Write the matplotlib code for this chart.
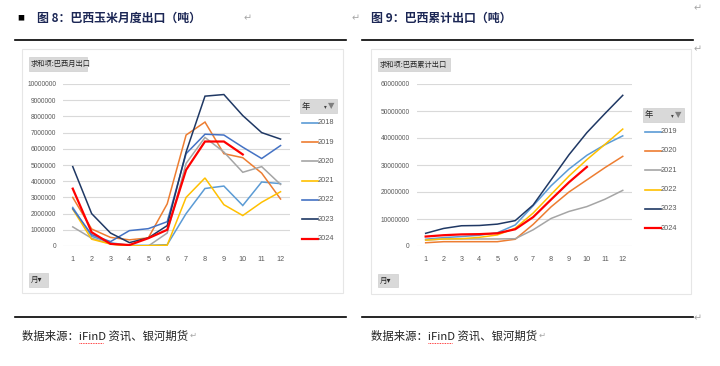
import matplotlib.pyplot as plt
from matplotlib.patches import Rectangle
from matplotlib.lines import Line2D
from matplotlib.ticker import MultipleLocator, FuncFormatter

plt.rcParams['font.family'] = ['Liberation Sans', 'Noto Sans CJK SC', 'DejaVu Sans']

# data (million tonnes)
months = list(range(1, 13))

monthly_years = ['2018', '2019', '2020', '2021', '2022', '2023', '2024']
m2018 = [2.38, 0.60, 0.20, 0.04, 0.04, 0.08, 2.00, 3.55, 3.70, 2.50, 3.95, 3.85]
m2019 = [3.00, 1.05, 0.53, 0.38, 0.50, 2.60, 6.85, 7.65, 5.70, 5.45, 4.50, 2.90]
m2020 = [1.18, 0.48, 0.13, 0.00, 0.00, 0.80, 5.10, 6.70, 5.80, 4.55, 4.90, 3.80]
m2021 = [2.27, 0.42, 0.12, 0.00, 0.02, 0.05, 3.00, 4.20, 2.55, 1.88, 2.70, 3.35]
m2022 = [2.30, 0.70, 0.27, 0.95, 1.07, 1.50, 5.70, 6.90, 6.85, 6.10, 5.40, 6.20]
m2023 = [4.90, 2.00, 0.80, 0.21, 0.50, 1.26, 5.80, 9.25, 9.35, 8.05, 7.00, 6.60]
m2024 = [3.54, 0.85, 0.13, 0.06, 0.48, 1.00, 4.70, 6.45, 6.45, 5.65]
monthly = [m2018, m2019, m2020, m2021, m2022, m2023, m2024]

cum_years = ['2019', '2020', '2021', '2022', '2023', '2024']
c2019 = [2.5, 3.1, 3.5, 4.0, 4.9, 7.8, 14.9, 22.3, 28.5, 33.6, 37.5, 40.8]
c2020 = [1.2, 1.6, 1.6, 1.6, 1.6, 2.5, 8.0, 14.5, 20.0, 24.5, 29.0, 33.2]
c2021 = [2.2, 2.6, 2.6, 2.6, 2.6, 2.7, 6.0, 10.2, 12.8, 14.6, 17.3, 20.6]
c2022 = [2.2, 2.6, 2.7, 3.2, 4.1, 6.6, 12.2, 19.1, 25.9, 32.0, 37.6, 43.3]
c2023 = [4.7, 6.5, 7.5, 7.6, 8.1, 9.4, 15.2, 24.5, 33.8, 42.0, 49.0, 55.8]
c2024 = [3.5, 4.0, 4.3, 4.4, 4.7, 6.2, 10.7, 17.2, 23.6, 29.3]
cumulative = [c2019, c2020, c2021, c2022, c2023, c2024]

monthly_colors = ['#5B9BD5', '#ED7D31', '#A5A5A5', '#FFC000', '#4472C4', '#1F3864', '#FF0000']
cum_colors = ['#5B9BD5', '#ED7D31', '#A5A5A5', '#FFC000', '#1F3864', '#FF0000']

W, H = 720, 366
fig = plt.figure(figsize=(7.2, 3.66), dpi=100)
fig.patch.set_facecolor('white')


def fx(px):
    return px / W


def fy(py):
    return 1 - py / H


def box(x0, y0, x1, y1, z=2, **kw):
    fig.add_artist(Rectangle((fx(x0), fy(y1)), fx(x1 - x0), (y1 - y0) / H,
                             transform=fig.transFigure, zorder=z, **kw))


def hline(x0, x1, y, color='black', lw=1.2):
    fig.add_artist(Line2D([fx(x0), fx(x1)], [fy(y), fy(y)], color=color, lw=lw,
                          transform=fig.transFigure))


def txt(x, y, s, **kw):
    fig.text(fx(x), fy(y), s, zorder=5, **kw)


cjk = ['Noto Sans CJK SC', 'DejaVu Sans']
navy = '#1C2755'
ret = '#A6A6A6'

# headings
txt(17, 18, '■', fontsize=5, color='black', va='center', family=cjk)
txt(37, 18, '图 8：巴西玉米月度出口（吨）', fontsize=8.6, color=navy, weight='bold', va='center', family=cjk)
txt(244, 18, '↵', fontsize=7, color=ret, va='center', family=['DejaVu Sans'])
txt(352, 18, '↵', fontsize=7, color=ret, va='center', family=['DejaVu Sans'])
txt(371, 18, '图 9：巴西累计出口（吨）', fontsize=8.6, color=navy, weight='bold', va='center', family=cjk)
txt(694, 8, '↵', fontsize=7, color=ret, va='center', family=['DejaVu Sans'])
txt(694, 49, '↵', fontsize=7, color=ret, va='center', family=['DejaVu Sans'])
txt(694, 318, '↵', fontsize=7, color=ret, va='center', family=['DejaVu Sans'])
hline(15, 346, 39.5)
hline(362, 693, 39.5)
hline(15, 346, 317)
hline(362, 693, 317)

# source lines
for x0 in (22, 371):
    txt(x0, 336, '数据来源：iFinD 资讯、银河期货', fontsize=8.2, color='#222222', va='center', family=cjk)
    txt(x0 + 168, 335, '↵', fontsize=6, color=ret, va='center', family=['DejaVu Sans'])
    fig.add_artist(Line2D([fx(x0 + 57), fx(x0 + 81)], [fy(343), fy(343)], color='#FF0000', lw=0.6,
                          ls=(0, (1, 1)), transform=fig.transFigure))

# chart frames (below the axes)
box(22, 49, 343, 293, z=-5, facecolor='white', edgecolor='#E6E6E6', lw=0.8)
box(371, 49, 691, 294, z=-5, facecolor='white', edgecolor='#E6E6E6', lw=0.8)


def button(x0, y0, x1, y1, label, size=5.2):
    box(x0, y0, x1, y1, facecolor='#D9D9D9', edgecolor='#CFCFCF', lw=0.5)
    txt(x0 + 2, (y0 + y1) / 2, label, fontsize=size, color='#262626', va='center', family=cjk)


button(29, 57, 87, 71, '求和项:巴西月出口')
button(378, 58, 450, 71, '求和项:巴西累计出口')
button(29, 273, 48, 287, '月▾', size=5.5)
button(378, 274, 398, 287, '月▾', size=5.5)


def fmt(v, pos):
    return '%d' % int(round(v * 1e6))


def make_axes(left, right, ymax, step, series, colors):
    ax = fig.add_axes([fx(left), fy(246), fx(right - left), (246 - 84) / H])
    ax.set_facecolor('none')
    ax.set_zorder(1)
    for data, c in zip(series, colors):
        lw = 1.6 if c == '#FF0000' else 1.1
        ax.plot(months[:len(data)], data, color=c, lw=lw, solid_joinstyle='miter')
    ax.set_xlim(0.5, 12.5)
    ax.set_ylim(0, ymax)
    ax.yaxis.set_major_locator(MultipleLocator(step))
    ax.yaxis.set_major_formatter(FuncFormatter(fmt))
    ax.set_xticks(months)
    ax.grid(axis='y', color='#D9D9D9', lw=0.8)
    ax.set_axisbelow(True)
    for s in ax.spines.values():
        s.set_visible(False)
    ax.tick_params(length=0, labelsize=4.8, labelcolor='#595959')
    ax.tick_params(axis='x', pad=7.5, labelsize=5.2)
    ax.tick_params(axis='y', pad=5)
    return ax


make_axes(63.3, 290, 10, 1, monthly, monthly_colors)
make_axes(416.7, 631.7, 60, 10, cumulative, cum_colors)


def legend(x0, y0, x1, y1, y_first, labels, colors):
    box(x0, y0, x1, y1, facecolor='#D9D9D9', edgecolor='#CFCFCF', lw=0.5)
    txt(x0 + 2, (y0 + y1) / 2, '年', fontsize=6, color='#262626', va='center', family=cjk)
    txt(x1 - 13, (y0 + y1) / 2 + 1, '▾', fontsize=4, color='#404040', va='center', family=['DejaVu Sans'])
    txt(x1 - 9, (y0 + y1) / 2, '▼', fontsize=6, color='#7F7F7F', va='center', family=['DejaVu Sans'])
    for i, (lab, c) in enumerate(zip(labels, colors)):
        yy = y_first + i * 19.3
        fig.add_artist(Line2D([fx(x0 + 2), fx(x0 + 18)], [fy(yy), fy(yy)], color=c,
                              lw=1.6 if c == '#FF0000' else 1.2, transform=fig.transFigure))
        txt(x0 + 18, yy, lab, fontsize=5.3, color='#595959', va='center')


legend(300, 99, 337, 113, 122.7, monthly_years, monthly_colors)
legend(643, 108, 684, 122, 131.7, cum_years, cum_colors)

fig.savefig('out.png', dpi=100, facecolor='white')
